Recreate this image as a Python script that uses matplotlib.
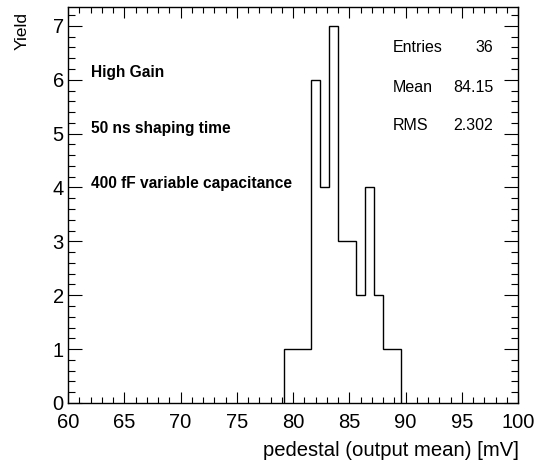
import matplotlib
matplotlib.use("Agg")
import matplotlib.pyplot as plt
import numpy as np
from matplotlib.ticker import MultipleLocator

# Data
bin_width = 0.8
first_edge = 79.2
counts = [1, 1, 1, 6, 4, 7, 3, 3, 2, 4, 2, 1, 1]
edges = [first_edge + i * bin_width for i in range(len(counts) + 1)]
x_range = (60, 100)
y_max = 7.35
annotations = ["High Gain", "50 ns shaping time", "400 fF variable capacitance"]
stats_labels = ["Entries", "Mean", "RMS"]
stats_values = ["36", "84.15", "2.302"]

plt.rcParams['font.family'] = ['Liberation Sans', 'DejaVu Sans']

fig = plt.figure(figsize=(5.35, 4.70), dpi=100)
ax = fig.add_axes([68/535, 1-403/470, 450/535, 396/470])

ax.stairs(counts, edges, color='black', linewidth=1.0, baseline=0)

ax.set_xlim(*x_range)
ax.set_ylim(0, y_max)
ax.xaxis.set_major_locator(MultipleLocator(5))
ax.xaxis.set_minor_locator(MultipleLocator(1))
ax.yaxis.set_major_locator(MultipleLocator(1))
ax.yaxis.set_minor_locator(MultipleLocator(0.2))
ax.tick_params(which='both', direction='in', top=True, right=True, width=0.8, labelsize=14.5)
ax.tick_params(axis='x', which='major', length=8, pad=7)
ax.tick_params(axis='x', which='minor', length=4)
ax.tick_params(axis='y', which='major', length=10, pad=3)
ax.tick_params(axis='y', which='minor', length=5)
for s in ax.spines.values():
    s.set_linewidth(1.0)

fig.text(519/535, 1-451/470, "pedestal (output mean) [mV]", ha='right', va='center', fontsize=14.6)
fig.text(22/535, 1-31/470, "Yield", rotation=90, ha='center', va='center', fontsize=12.5)

ys = [73, 128, 183]
for t, y in zip(annotations, ys):
    fig.text(91/535, 1-y/470, t, ha='left', va='center', fontsize=11.2, fontweight='bold')

sy = [48, 88, 126]
for l, v, y in zip(stats_labels, stats_values, sy):
    fig.text(393/535, 1-y/470, l, ha='left', va='center', fontsize=11.5)
    fig.text(493/535, 1-y/470, v, ha='right', va='center', fontsize=11.5)

fig.savefig("out.png", dpi=100)
